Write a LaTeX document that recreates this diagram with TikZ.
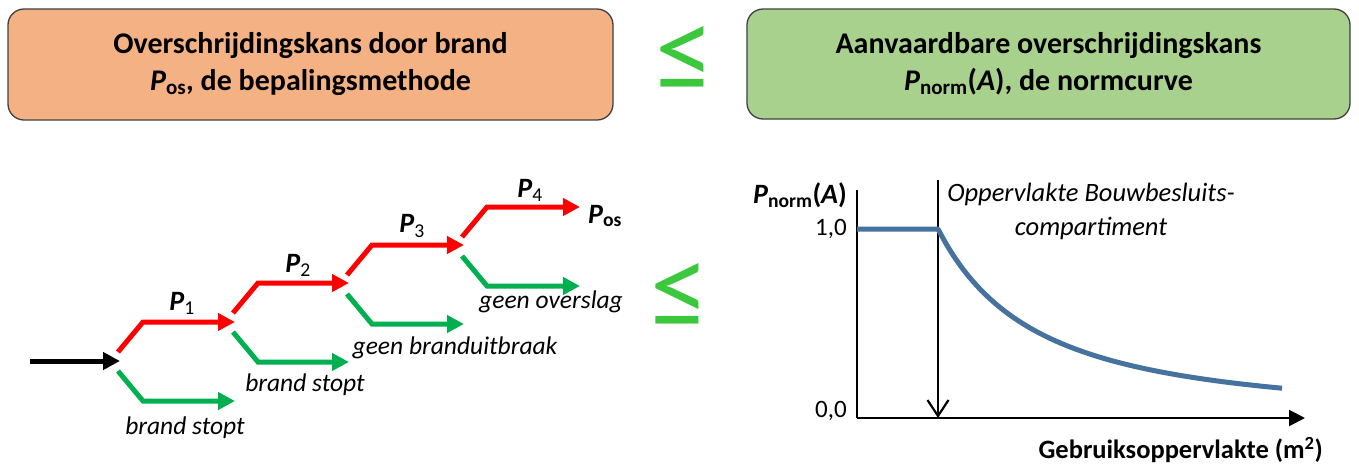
\documentclass[tikz,border=0pt]{standalone}
\usepackage{fontspec}
\setmainfont{Carlito}
\usetikzlibrary{arrows.meta,calc}
\definecolor{boxorange}{HTML}{F4B183}
\definecolor{boxgreen}{HTML}{A9D18E}
\definecolor{boxline}{HTML}{404040}
\definecolor{redarr}{HTML}{FF0000}
\definecolor{greenarr}{HTML}{00B050}
\definecolor{leqgreen}{HTML}{3CC83C}
\definecolor{curveblue}{HTML}{4672A0}
\newcommand{\Pb}{\textbf{\textit{P}}}
\newcommand{\Pn}[1]{\Pb\textsubscript{#1}}
\newcommand{\Pbs}[1]{\Pb\textsubscript{\textbf{#1}}}
\tikzset{
  headbox/.style={draw=boxline, line width=1.3pt, rounded corners=16pt, align=center,
    font=\fontsize{30}{37}\selectfont\bfseries, inner sep=0pt},
  leqsym/.style={text=leqgreen, font=\fontsize{118}{118}\selectfont, inner sep=0pt},
  redway/.style={draw=redarr, line width=5pt, -{Triangle[length=17pt,width=17pt]}},
  greenway/.style={draw=greenarr, line width=5pt, -{Triangle[length=17pt,width=17pt]}},
  blackway/.style={draw=black, line width=5pt, -{Triangle[length=17pt,width=17pt]}},
  plab/.style={font=\fontsize{28}{30}\selectfont, inner sep=0pt},
  ilab/.style={font=\fontsize{25.5}{28}\selectfont\itshape, inner sep=0pt},
  axis/.style={line width=2.2pt},
}
\begin{document}
\begin{tikzpicture}[x=1pt,y=-1pt]
\useasboundingbox (0,0) rectangle (1359,464);
% header boxes
\node[headbox, fill=boxorange, minimum width=605pt, minimum height=111pt] (hb1) at (310.5,64.5)
  {Overschrijdingskans door brand\\\Pbs{os}, de bepalingsmethode};
\node[headbox, fill=boxgreen, minimum width=603pt, minimum height=110pt] (hb2) at (1048.5,64)
  {Aanvaardbare overschrijdingskans\\\Pbs{norm}(\textit{A}), de normcurve};
\node[leqsym] (le1) at (684.5,59) {≤};
\node[leqsym] (le2) at (680,296) {≤};
% event tree
\coordinate (s0) at (30,361);
\coordinate (b1) at (118,361);
\coordinate (b2) at (233,322);
\coordinate (b3) at (347,284);
\coordinate (b4) at (462,246);
\coordinate (b5) at (578,208);
\draw[blackway] (s0) -- ($(b1)+(2,0)$);
\foreach \i/\j in {1/2,2/3,3/4,4/5}{
  \draw[redway] ($(b\i)+(0,-9)$) -- ($(b\i)+(25,-39)$) -- ($(b\j|-b\i)+(2,-39)$);
  \draw[greenway] ($(b\i)+(0,10)$) -- ($(b\i)+(25,40)$) -- ($(b\j|-b\i)+(2,40)$);
}
\node[plab] (p1) at (182,303) {\Pn{1}};
\node[plab] (p2) at (298,265) {\Pn{2}};
\node[plab] (p3) at (412,226) {\Pn{3}};
\node[plab] (p4) at (530,190) {\Pn{4}};
\node[plab, anchor=west] (pos) at (588,216) {\Pbs{os}};
\node[ilab] (l1) at (185,428) {brand stopt};
\node[ilab] (l2) at (305,385) {brand stopt};
\node[ilab] (l3) at (455,348) {geen branduitbraak};
\node[ilab] (l4) at (551,302) {geen overslag};
% graph
\coordinate (o) at (857,418);
\coordinate (ytop) at (857,190);
\coordinate (xend) at (1305,418);
\coordinate (vtop) at (938,180);
\coordinate (vbot) at (938,418);
\coordinate (c0) at (857,229);
\coordinate (c1) at (938,229);
\draw[axis] (ytop) -- (o);
\draw[axis, -{Triangle[length=16pt,width=16pt]}] (o) -- (xend);
\draw[axis, -{Straight Barb[length=16pt,width=21pt,line width=2.2pt]}] (vtop) -- (vbot);
\draw[curveblue, line width=5pt, line join=round] (c0) -- (c1)
  -- plot[domain=938:1282, samples=80, smooth] (\x, {418-189*(1+(\x-938)/150)^(-1.55)});
\node[font=\fontsize{28}{30}\selectfont, inner sep=0pt] (pn) at (800,195) {\Pbs{norm}\textbf{(\textit{A})}};
\node[font=\fontsize{25}{28}\selectfont, inner sep=0pt, anchor=east] (one) at (847,229) {1,0};
\node[font=\fontsize{25}{28}\selectfont, inner sep=0pt, anchor=east] (zero) at (847,411) {0,0};
\node[align=center, font=\fontsize{26.5}{34}\selectfont\itshape, inner sep=0pt] (opp) at (1091,211) {Oppervlakte Bouwbesluits-\\compartiment};
\node[font=\fontsize{26.5}{28}\selectfont\bfseries, inner sep=0pt, anchor=east] (gb) at (1323,450) {Gebruiksoppervlakte (m\textsuperscript{2})};
\end{tikzpicture}
\end{document}
